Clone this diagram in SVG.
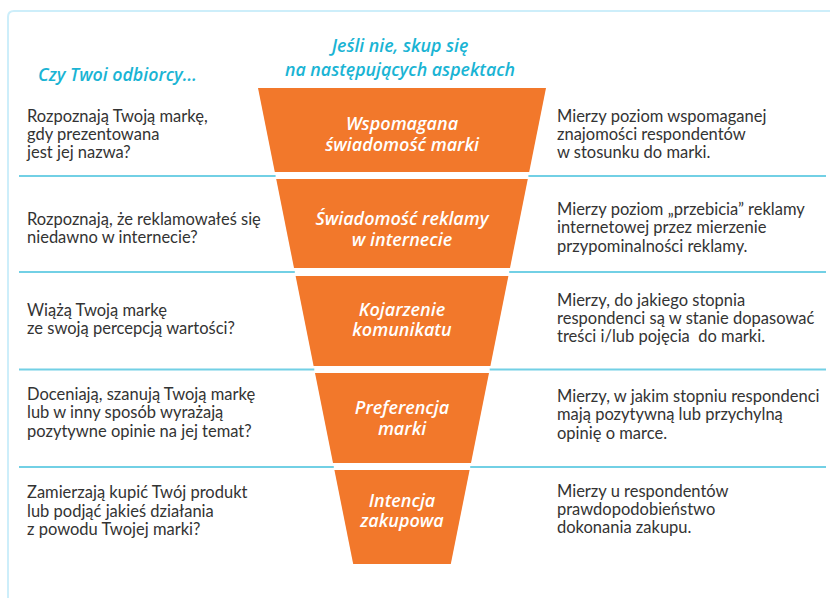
<svg xmlns="http://www.w3.org/2000/svg" width="830" height="598" viewBox="0 0 830 598">
<style>
.frame{fill:none;stroke:#cdeefa;stroke-width:2}
.sep{stroke:#72d0e5;stroke-width:2;fill:none}
.seg{fill:#f2782b}
.lbl{font-family:"Open Sans","Noto Sans",sans-serif;font-style:italic;font-weight:600;font-size:18px;fill:#ffffff;text-anchor:middle}
.hdr{font-family:"Open Sans","Noto Sans",sans-serif;font-style:italic;font-weight:600;font-size:17.8px;fill:#1ab4d4}
.txt{font-family:Lato,"Noto Sans",sans-serif;font-size:16.5px;fill:#333333}
</style>
<rect width="830" height="598" fill="#ffffff"/>
<path class="frame" d="M8 620 V17 Q8 11 14 11 H850"/>
<g id="headers">
<text class="hdr" x="38" y="81">Czy Twoi odbiorcy…</text>
<text class="hdr" x="400" y="52" text-anchor="middle">Jeśli nie, skup się</text>
<text class="hdr" x="400" y="76" text-anchor="middle">na następujących aspektach</text>
</g>
<g id="connectors">
<line class="sep" x1="19" y1="176" x2="275.6" y2="176"/>
<line class="sep" x1="528.4" y1="176" x2="826" y2="176"/>
<line class="sep" x1="19" y1="272" x2="294.8" y2="272"/>
<line class="sep" x1="509.2" y1="272" x2="826" y2="272"/>
<line class="sep" x1="19" y1="369.5" x2="314.3" y2="369.5"/>
<line class="sep" x1="489.7" y1="369.5" x2="826" y2="369.5"/>
<line class="sep" x1="19" y1="467" x2="333.8" y2="467"/>
<line class="sep" x1="470.2" y1="467" x2="826" y2="467"/>
</g>
<g id="stage1">
<polygon class="seg" points="258,88 546,88 529.2,172 274.8,172"/>
<text class="lbl" x="402" y="130">Wspomagana</text>
<text class="lbl" x="402" y="151">świadomość marki</text>
<text class="txt" x="27" y="122">Rozpoznają Twoją markę,</text>
<text class="txt" x="27" y="140">gdy prezentowana</text>
<text class="txt" x="27" y="158">jest jej nazwa?</text>
<text class="txt" x="557" y="122">Mierzy poziom wspomaganej</text>
<text class="txt" x="557" y="140">znajomości respondentów</text>
<text class="txt" x="557" y="158">w stosunku do marki.</text>
</g>
<g id="stage2">
<polygon class="seg" points="276.2,179 527.8,179 510,268 294,268"/>
<text class="lbl" x="402" y="225">Świadomość reklamy</text>
<text class="lbl" x="402" y="246">w internecie</text>
<text class="txt" x="27" y="225">Rozpoznają, że reklamowałeś się</text>
<text class="txt" x="27" y="243">niedawno w internecie?</text>
<text class="txt" x="557" y="215">Mierzy poziom „przebicia” reklamy</text>
<text class="txt" x="557" y="233">internetowej przez mierzenie</text>
<text class="txt" x="557" y="252">przypominalności reklamy.</text>
</g>
<g id="stage3">
<polygon class="seg" points="295.6,276 508.4,276 490.4,366 313.6,366"/>
<text class="lbl" x="402" y="316">Kojarzenie</text>
<text class="lbl" x="402" y="336">komunikatu</text>
<text class="txt" x="27" y="316">Wiążą Twoją markę</text>
<text class="txt" x="27" y="334">ze swoją percepcją wartości?</text>
<text class="txt" x="557" y="306">Mierzy, do jakiego stopnia</text>
<text class="txt" x="557" y="324">respondenci są w stanie dopasować</text>
<text class="txt" x="557" y="342" xml:space="preserve">treści i/lub pojęcia  do marki.</text>
</g>
<g id="stage4">
<polygon class="seg" points="315,373 489,373 471,463 333,463"/>
<text class="lbl" x="402" y="414">Preferencja</text>
<text class="lbl" x="402" y="435">marki</text>
<text class="txt" x="27" y="400">Doceniają, szanują Twoją markę</text>
<text class="txt" x="27" y="418">lub w inny sposób wyrażają</text>
<text class="txt" x="27" y="437">pozytywne opinie na jej temat?</text>
<text class="txt" x="557" y="402">Mierzy, w jakim stopniu respondenci</text>
<text class="txt" x="557" y="420">mają pozytywną lub przychylną</text>
<text class="txt" x="557" y="439">opinię o marce.</text>
</g>
<g id="stage5">
<polygon class="seg" points="334.4,470 469.6,470 450.8,564 353.2,564"/>
<text class="lbl" x="402" y="507">Intencja</text>
<text class="lbl" x="402" y="527">zakupowa</text>
<text class="txt" x="27" y="498">Zamierzają kupić Twój produkt</text>
<text class="txt" x="27" y="517">lub podjąć jakieś działania</text>
<text class="txt" x="27" y="535">z powodu Twojej marki?</text>
<text class="txt" x="557" y="497">Mierzy u respondentów</text>
<text class="txt" x="557" y="515">prawdopodobieństwo</text>
<text class="txt" x="557" y="533">dokonania zakupu.</text>
</g>
</svg>
